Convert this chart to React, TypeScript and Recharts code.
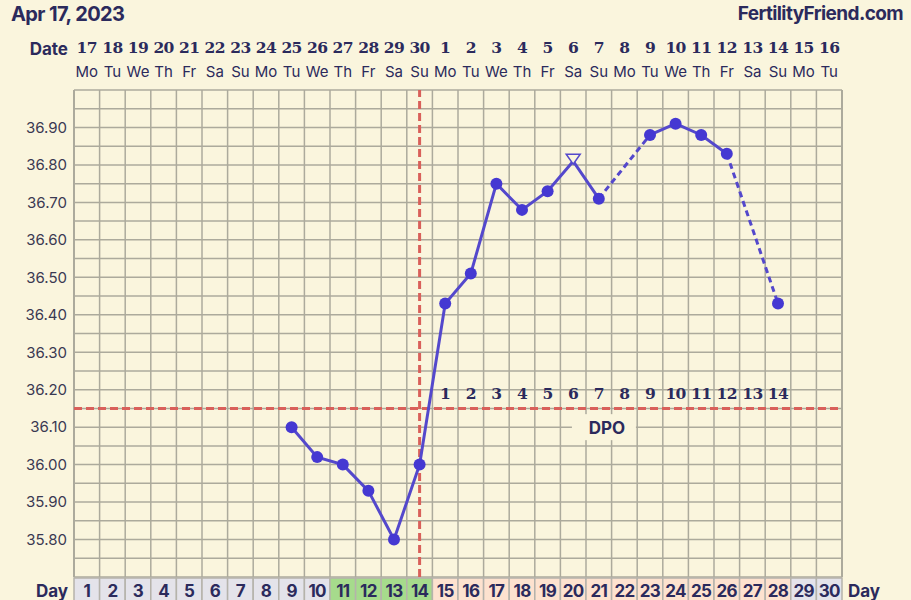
import React from "react";
import {
  CartesianGrid,
  ComposedChart,
  Line,
  ReferenceDot,
  ReferenceLine,
  XAxis,
  YAxis,
} from "recharts";

const CYCLE_DAYS = [
  1, 2, 3, 4, 5, 6, 7, 8, 9, 10, 11, 12, 13, 14, 15, 16, 17, 18, 19, 20, 21,
  22, 23, 24, 25, 26, 27, 28, 29, 30,
];
const DATES = [
  "17", "18", "19", "20", "21", "22", "23", "24", "25", "26", "27", "28", "29",
  "30", "1", "2", "3", "4", "5", "6", "7", "8", "9", "10", "11", "12", "13",
  "14", "15", "16",
];
const WEEKDAYS = [
  "Mo", "Tu", "We", "Th", "Fr", "Sa", "Su", "Mo", "Tu", "We", "Th", "Fr", "Sa",
  "Su", "Mo", "Tu", "We", "Th", "Fr", "Sa", "Su", "Mo", "Tu", "We", "Th", "Fr",
  "Sa", "Su", "Mo", "Tu",
];
// basal temps, null = not recorded
const TEMPS: (number | null)[] = [
  null, null, null, null, null, null, null, null,
  36.1, 36.02, 36.0, 35.93, 35.8, 36.0,
  36.43, 36.51, 36.75, 36.68, 36.73, 36.81, 36.71, null,
  36.88, 36.91, 36.88, 36.83, null, 36.43, null, null,
];
// g = none, f = fertile, l = luteal
const PHASES = [
  "g", "g", "g", "g", "g", "g", "g", "g", "g", "g", "f", "f", "f", "f", "l",
  "l", "l", "l", "l", "l", "l", "l", "l", "l", "l", "l", "l", "l", "g", "g",
];
const OPEN_MARKER_DAYS = [20];
const OVULATION_DAY = 14;
const COVERLINE = 36.15;
const DPO_LABELS = [1, 2, 3, 4, 5, 6, 7, 8, 9, 10, 11, 12, 13, 14];
const Y_TICKS = [
  35.7, 35.75, 35.8, 35.85, 35.9, 35.95, 36.0, 36.05, 36.1, 36.15, 36.2,
  36.25, 36.3, 36.35, 36.4, 36.45, 36.5, 36.55, 36.6, 36.65, 36.7, 36.75,
  36.8, 36.85, 36.9, 36.95, 37.0,
];

const BG = "#faf5dd";
const NAVY = "#2b2a5c";
const GRID = "#acaa9c";
const RED = "#d9605a";
const LINE = "#5448cc";
const DOT = "#4538d2";
const COL = 768 / 30;

const PHASE_FILL: Record<string, string> = {
  g: "#e4e3ea",
  f: "#a6db8c",
  l: "#fde2cf",
};

// dashed bridges over missing days
const gaps: [number, number][] = [];
let last = -1;
TEMPS.forEach((t, i) => {
  if (t == null) return;
  if (last >= 0 && i - last > 1) gaps.push([last, i]);
  last = i;
});

const data = CYCLE_DAYS.map((day, i) => {
  const row: Record<string, number | null> = { day, temp: TEMPS[i] };
  gaps.forEach(([a, b], k) => {
    row[`gap${k}`] = i === a || i === b ? TEMPS[i] : null;
  });
  return row;
});

const columnEdges = [...CYCLE_DAYS.map((d) => d - 0.5), 30.5];

const fmtY = (v: number) => {
  const c = Math.round(v * 100);
  return c % 10 === 0 && c >= 3580 && c <= 3690 ? v.toFixed(2) : "";
};

function DateTick(props: any) {
  const { x, y, payload } = props;
  const i = payload.value - 1;
  return (
    <g>
      {i === 0 && (
        <text
          x={x - COL / 2 - 6}
          y={y - 35}
          textAnchor="end"
          fontFamily="Inter"
          fontWeight="bold"
          fontSize={17}
          fill={NAVY}
        >
          Date
        </text>
      )}
      <text
        x={x}
        y={y - 37}
        textAnchor="middle"
        fontFamily="DejaVu Serif"
        fontWeight="bold"
        fontSize={15.5}
        letterSpacing={-0.6}
        fill={NAVY}
      >
        {DATES[i]}
      </text>
      <text
        x={x}
        y={y - 13}
        textAnchor="middle"
        fontFamily="Inter"
        fontSize={15}
        fill={NAVY}
      >
        {WEEKDAYS[i]}
      </text>
    </g>
  );
}

function DayTick(props: any) {
  const { x, y, payload } = props;
  const d = payload.value;
  return (
    <g>
      <rect
        x={x - COL / 2}
        y={y + 1}
        width={COL}
        height={30}
        fill={PHASE_FILL[PHASES[d - 1]]}
        stroke="#b5b3ab"
        strokeWidth={1.5}
      />
      <text
        x={x}
        y={y + 19.5}
        textAnchor="middle"
        fontFamily="Inter"
        fontWeight="bold"
        fontSize={17}
        letterSpacing={-0.7}
        fill={NAVY}
      >
        {d}
      </text>
      {(d === 1 || d === 30) && (
        <text
          x={d === 1 ? x - COL / 2 - 6 : x + COL / 2 + 6}
          y={y + 20}
          textAnchor={d === 1 ? "end" : "start"}
          fontFamily="Inter"
          fontWeight="bold"
          fontSize={17}
          fill={NAVY}
        >
          Day
        </text>
      )}
    </g>
  );
}

function TempDot(props: any) {
  const { cx, cy, index, payload } = props;
  if (cx == null || cy == null || payload.temp == null) return <g key={`n${index}`} />;
  if (OPEN_MARKER_DAYS.includes(payload.day)) {
    return (
      <path
        key={`t${index}`}
        d={`M${cx - 7},${cy - 7} L${cx + 7},${cy - 7} L${cx},${cy + 3} Z`}
        fill={BG}
        stroke={LINE}
        strokeWidth={1.5}
      />
    );
  }
  return <circle key={`c${index}`} cx={cx} cy={cy} r={6} fill={DOT} />;
}

export default function App() {
  return (
    <div
      style={{
        position: "absolute",
        left: 0,
        top: 0,
        width: 911,
        height: 600,
        background: BG,
        overflow: "hidden",
      }}
    >
      <div
        style={{
          position: "absolute",
          left: 11,
          top: 0,
          fontFamily: "Inter",
          fontWeight: 700,
          fontSize: 20,
          letterSpacing: -0.6,
          color: NAVY,
          lineHeight: "28px",
        }}
      >
        Apr 17, 2023
      </div>
      <div
        style={{
          position: "absolute",
          right: 8,
          top: 0,
          fontFamily: "Inter",
          fontWeight: 700,
          fontSize: 19,
          letterSpacing: -0.6,
          color: NAVY,
          lineHeight: "28px",
        }}
      >
        FertilityFriend.com
      </div>
      <ComposedChart
        width={911}
        height={600}
        data={data}
        margin={{ top: 30, right: 9, bottom: 0, left: 14 }}
        style={{ position: "absolute", left: 0, top: 0 }}
      >
        <CartesianGrid
          xAxisId="day"
          yAxisId="left"
          vertical={false}
          stroke={GRID}
          strokeWidth={1.5}
        />
        <XAxis
          xAxisId="date"
          orientation="top"
          type="number"
          dataKey="day"
          domain={[0.5, 30.5]}
          ticks={CYCLE_DAYS}
          interval={0}
          height={60}
          axisLine={false}
          tickLine={false}
          tickSize={0}
          tickMargin={0}
          tick={<DateTick />}
        />
        <XAxis
          xAxisId="day"
          orientation="bottom"
          type="number"
          dataKey="day"
          domain={[0.5, 30.5]}
          ticks={CYCLE_DAYS}
          interval={0}
          height={23}
          axisLine={false}
          tickLine={false}
          tickSize={0}
          tickMargin={0}
          tick={<DayTick />}
        />
        <YAxis
          yAxisId="left"
          domain={[35.7, 37.0]}
          ticks={Y_TICKS}
          interval={0}
          width={60}
          axisLine={false}
          tickLine={false}
          tickSize={0}
          tickMargin={7}
          tickFormatter={fmtY}
          tick={{ fontFamily: "Inter", fontSize: 15, fill: "#3a3952" }}
        />
        <YAxis
          yAxisId="right"
          orientation="right"
          domain={[35.7, 37.0]}
          ticks={Y_TICKS}
          interval={0}
          width={60}
          axisLine={false}
          tickLine={false}
          tickSize={0}
          tickMargin={7}
          tickFormatter={fmtY}
          tick={{ fontFamily: "Inter", fontSize: 15, fill: "#3a3952" }}
        />
        {columnEdges.map((x) => (
          <ReferenceLine
            key={`v${x}`}
            xAxisId="day"
            yAxisId="left"
            x={x}
            stroke={GRID}
            strokeWidth={x === 0.5 || x === 30.5 ? 2 : 1.5}
          />
        ))}
        <ReferenceDot
          xAxisId="day"
          yAxisId="left"
          x={21.2}
          y={36.1}
          shape={(p: any) => (
            <g>
              <rect x={p.cx - 32} y={p.cy - 13} width={64} height={26} fill={BG} />
              <text
                x={p.cx + 3}
                y={p.cy + 7}
                textAnchor="middle"
                fontFamily="Inter"
                fontWeight="bold"
                fontSize={17}
                fill={NAVY}
              >
                DPO
              </text>
            </g>
          )}
        />
        <ReferenceLine
          xAxisId="day"
          yAxisId="left"
          y={COVERLINE}
          stroke={RED}
          strokeWidth={3}
          strokeDasharray="8 4"
        />
        <ReferenceLine
          xAxisId="day"
          yAxisId="left"
          x={OVULATION_DAY}
          stroke={RED}
          strokeWidth={3}
          strokeDasharray="8 4"
        />
        {DPO_LABELS.map((n) => (
          <ReferenceDot
            key={`dpo${n}`}
            xAxisId="day"
            yAxisId="left"
            x={OVULATION_DAY + n}
            y={COVERLINE}
            shape={(p: any) => (
              <text
                x={p.cx}
                y={p.cy - 9}
                textAnchor="middle"
                fontFamily="DejaVu Serif"
                fontWeight="bold"
                fontSize={15.5}
                letterSpacing={-0.6}
                fill={NAVY}
              >
                {n}
              </text>
            )}
          />
        ))}
        {gaps.map((_, k) => (
          <Line
            key={`gap${k}`}
            xAxisId="day"
            yAxisId="left"
            dataKey={`gap${k}`}
            stroke={LINE}
            strokeWidth={3}
            strokeDasharray="6 4"
            connectNulls
            dot={false}
            activeDot={false}
            isAnimationActive={false}
          />
        ))}
        <Line
          xAxisId="day"
          yAxisId="left"
          dataKey="temp"
          stroke={LINE}
          strokeWidth={3}
          connectNulls={false}
          dot={TempDot}
          activeDot={false}
          isAnimationActive={false}
        />
      </ComposedChart>
    </div>
  );
}
